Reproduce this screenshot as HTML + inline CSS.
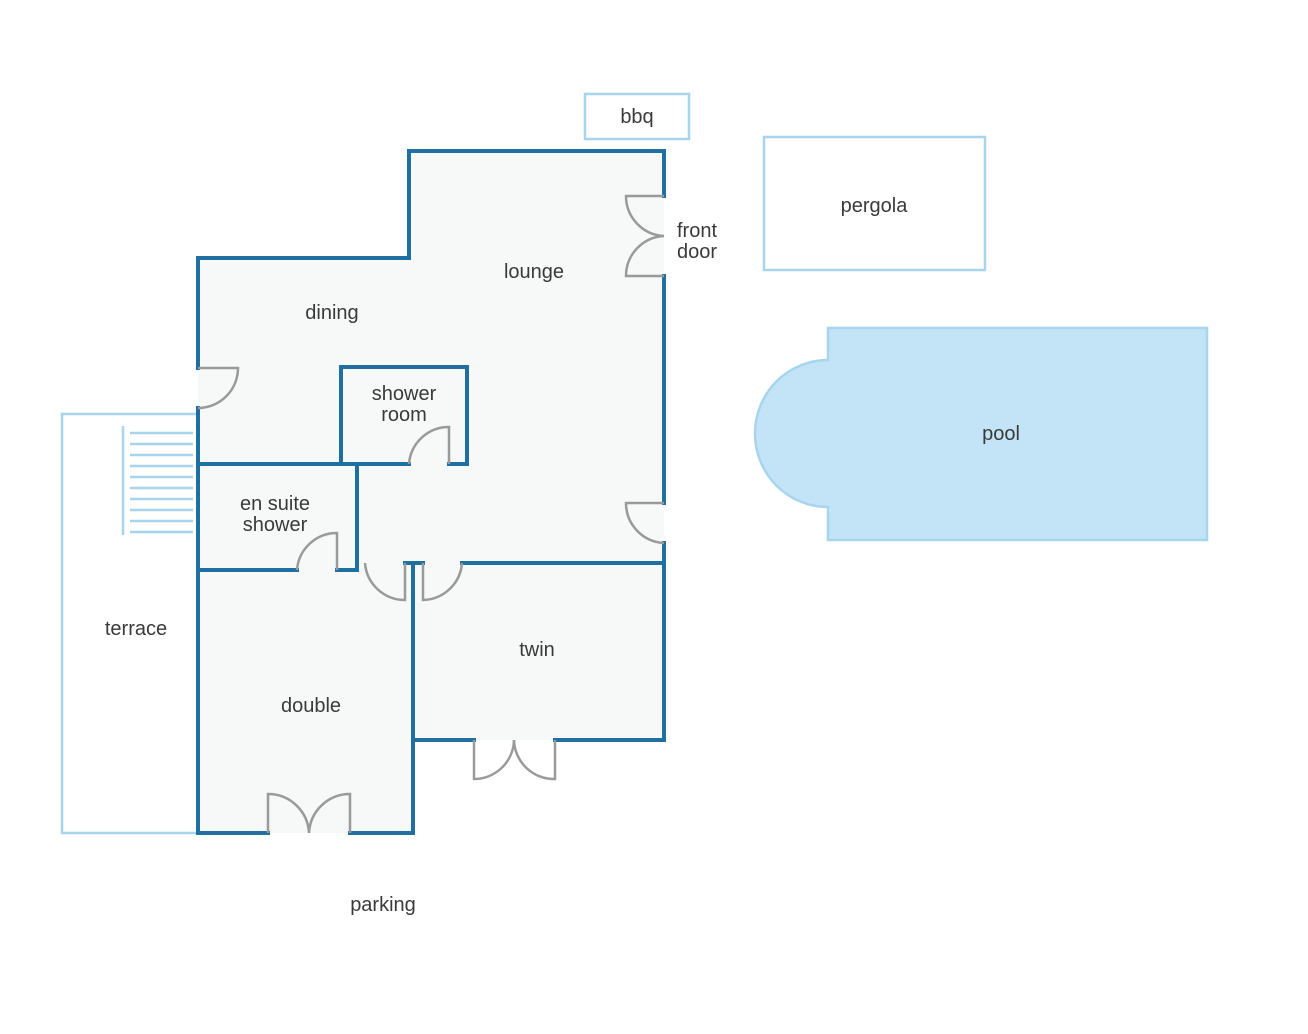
<!DOCTYPE html>
<html><head><meta charset="utf-8"><style>
html,body{margin:0;padding:0;background:#fff;}
svg{display:block;}
text{font-family:"Liberation Sans","DejaVu Sans",sans-serif;font-size:20px;fill:#3a3a3a;text-anchor:middle;}
</style></head><body>
<svg width="1308" height="1034" viewBox="0 0 1308 1034" xmlns="http://www.w3.org/2000/svg">
<rect width="1308" height="1034" fill="#fff"/>
<!-- terrace -->
<rect x="62" y="414" width="136" height="419" fill="#fff" stroke="#a8d5ee" stroke-width="2.5"/>
<line x1="123" y1="426" x2="123" y2="535" stroke="#a8d5ee" stroke-width="2.5"/>
<g stroke="#a8d5ee" stroke-width="2.5">
<line x1="130" y1="433" x2="193" y2="433"/><line x1="130" y1="444" x2="193" y2="444"/>
<line x1="130" y1="455" x2="193" y2="455"/><line x1="130" y1="466" x2="193" y2="466"/>
<line x1="130" y1="477" x2="193" y2="477"/><line x1="130" y1="488" x2="193" y2="488"/>
<line x1="130" y1="499" x2="193" y2="499"/><line x1="130" y1="510" x2="193" y2="510"/>
<line x1="130" y1="521" x2="193" y2="521"/><line x1="130" y1="532" x2="193" y2="532"/>
</g>
<!-- floor -->
<path d="M198,258 L409,258 L409,151 L664,151 L664,740 L413,740 L413,833 L198,833 Z" fill="#f7f8f8"/>
<!-- walls -->
<g stroke="#1f6fa1" stroke-width="4" fill="none" stroke-linecap="square">
<polyline points="198,368 198,258 409,258 409,151 664,151 664,196"/>
<line x1="664" y1="276" x2="664" y2="503"/>
<polyline points="664,543 664,740 555,740"/>
<polyline points="474,740 413,740 413,833 350,833"/>
<polyline points="268,833 198,833 198,408"/>
<polyline points="409,464 341,464 341,367 467,367 467,464 449,464"/>
<line x1="198" y1="464" x2="341" y2="464"/>
<line x1="357" y1="464" x2="357" y2="570"/>
<line x1="198" y1="570" x2="297" y2="570"/>
<line x1="337" y1="570" x2="357" y2="570"/>
<line x1="413" y1="563" x2="413" y2="740"/>
<line x1="405" y1="563" x2="423" y2="563"/>
<line x1="462" y1="563" x2="664" y2="563"/>
</g>
<!-- doors -->
<g stroke="#9a9a9a" stroke-width="2.5" fill="none">
<path d="M664,196 L626,196 A40,40 0 0 0 664,236 A40,40 0 0 0 626,276 L664,276"/>
<path d="M198,368 L238,368 A40,40 0 0 1 198,408"/>
<path d="M664,503 L626,503 A40,40 0 0 0 664,543"/>
<path d="M449,464 L449,427 A40,40 0 0 0 409,464"/>
<path d="M337,570 L337,533 A40,40 0 0 0 297,570"/>
<path d="M365,563 A40,40 0 0 0 405,600 L405,563"/>
<path d="M423,563 L423,600 A40,40 0 0 0 462,563"/>
<path d="M474,740 L474,779 A40,40 0 0 0 514,740 A40,40 0 0 0 555,779 L555,740"/>
<path d="M268,833 L268,794 A41,41 0 0 1 309,833 A41,41 0 0 1 350,794 L350,833"/>
</g>
<!-- outside -->
<rect x="585" y="94" width="104" height="45" fill="#fff" stroke="#a8d5ee" stroke-width="2.5"/>
<rect x="764" y="137" width="221" height="133" fill="#fff" stroke="#a8d5ee" stroke-width="2.5"/>
<path d="M828,360 L828,328 L1207,328 L1207,540 L828,540 L828,507 A73,73.5 0 0 1 828,360 Z" fill="#c3e4f7" stroke="#a8d5ee" stroke-width="2.5"/>
<!-- labels -->
<text x="637" y="123">bbq</text>
<text x="874" y="212">pergola</text>
<text x="1001" y="440">pool</text>
<text x="697" y="237">front</text>
<text x="697" y="258">door</text>
<text x="534" y="278">lounge</text>
<text x="332" y="319">dining</text>
<text x="404" y="400">shower</text>
<text x="404" y="421">room</text>
<text x="275" y="510">en suite</text>
<text x="275" y="531">shower</text>
<text x="136" y="635">terrace</text>
<text x="537" y="656">twin</text>
<text x="311" y="712">double</text>
<text x="383" y="911">parking</text>
</svg>
</body></html>
